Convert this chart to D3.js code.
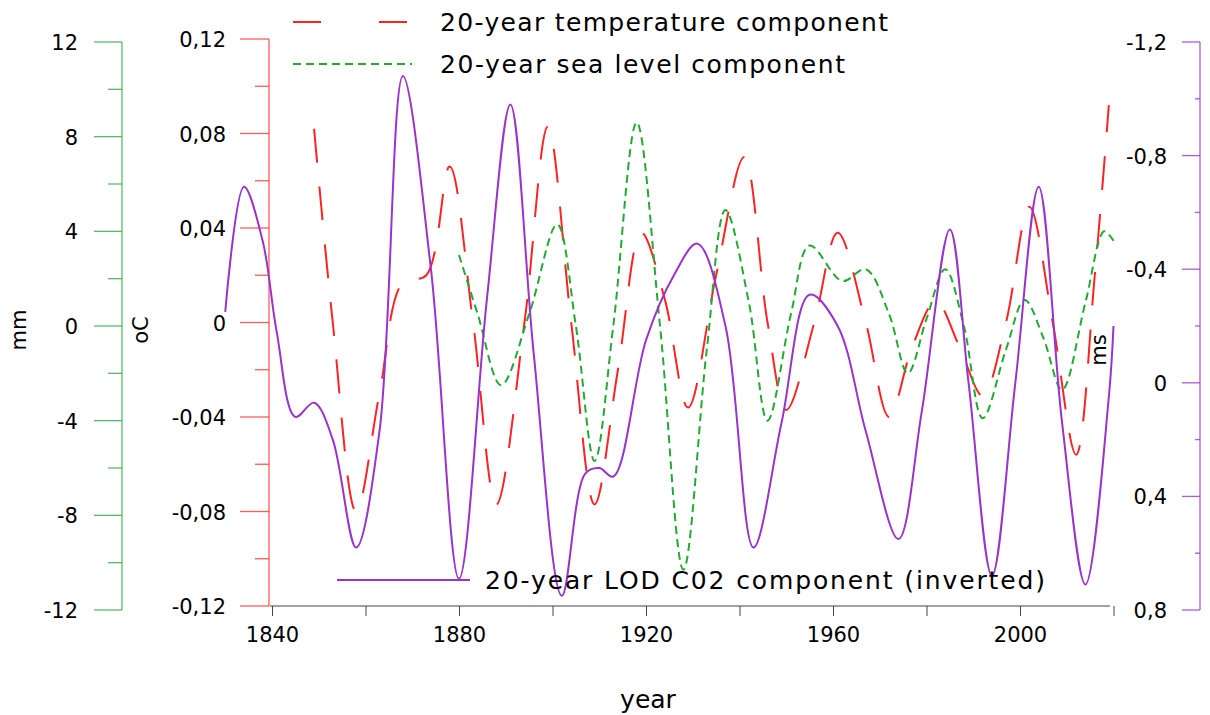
<!DOCTYPE html>
<html><head><meta charset="utf-8">
<script src="https://cdn.jsdelivr.net/npm/d3@7"></script>
<style>body{margin:0;background:#fff}text{font-family:"DejaVu Sans",Verdana,sans-serif}</style>
</head><body><svg id="c" width="1210" height="715"></svg>
<script>
// Data (years, values)
const tempYears = [1849,1853,1858,1863,1868,1873,1878,1883,1888,1894,1899,1904,1909,1914,1919,1924,1929,1935,1941,1946,1950,1956,1961,1967,1972,1977,1982,1987,1992,1997,2002,2007,2012,2016,2019];
const tempVals  = [0.082,0.0,-0.080,-0.03,0.017,0.02,0.066,0.0,-0.077,0.0,0.083,0.0,-0.077,-0.02,0.038,0.01,-0.036,0.02,0.070,0.0,-0.037,0.0,0.038,0.0,-0.040,-0.01,0.009,-0.01,-0.031,0.0,0.049,0.0,-0.056,0.02,0.092];
const seaYears = [1880,1884,1889,1895,1901,1905,1909,1913,1918,1923,1928,1933,1937,1942,1946,1951,1955,1962,1967,1972,1976,1980,1984,1988,1992,1997,2001,2005,2009,2014,2018,2020];
const seaVals  = [3.0,0.5,-2.5,0.5,4.3,0.0,-5.7,0.0,8.6,0.0,-10.3,-1.0,4.9,1.0,-4.0,0.5,3.4,1.9,2.4,0.5,-2.0,0.3,2.4,0.0,-3.9,-1.0,1.1,-0.5,-2.7,1.0,4.0,3.6];
const lodYears = [1830,1834,1838,1841,1845,1849,1853,1858,1863,1868,1874,1880,1886,1891,1896,1902,1907,1910,1913,1920,1926,1931,1937,1943,1949,1955,1961,1967,1974,1979,1985,1989,1994,1999,2004,2009,2014,2019,2020];
const lodVals  = [-0.25,-0.69,-0.5,-0.18,0.12,0.07,0.2,0.58,0.17,-1.08,-0.4,0.69,-0.3,-0.98,-0.1,0.75,0.32,0.3,0.33,-0.15,-0.38,-0.49,-0.2,0.58,0.14,-0.31,-0.2,0.17,0.55,0.1,-0.54,0.0,0.68,0.0,-0.69,0.14,0.71,0.05,-0.2];
const yearTicks = [1840,1880,1920,1960,2000];
const mmTicks = [12,8,4,0,-4,-8,-12];
const cTicks = [0.12,0.08,0.04,0,-0.04,-0.08,-0.12];
const msTicks = [-1.2,-0.8,-0.4,0,0.4,0.8];
const legendTexts = ["20-year temperature component","20-year sea level component","20-year LOD C02 component  (inverted)"];

const svg = d3.select("#c");
const x = d3.scaleLinear().domain([1840,2000]).range([272,1020]);
const yMM = d3.scaleLinear().domain([-12,12]).range([610,42]);
const yC = d3.scaleLinear().domain([-0.12,0.12]).range([606,39]);
const yMS = d3.scaleLinear().domain([-1.2,0.8]).range([42,610]);
const fmt = d => String(+d.toFixed(2)).replace(".",",");
const green="#33aa44", red="#ff3333", purple="#9933cc";

function vAxis(scale, xpos, col, ticks, minorStep, major, minor, labX){
  const g = svg.append("g");
  const [a,b] = scale.range();
  g.append("line").attr("x1",xpos).attr("x2",xpos).attr("y1",a).attr("y2",b).attr("stroke",col).attr("stroke-width",1.3).attr("opacity",0.8);
  const d = scale.domain();
  for(let v=d[0]; v<=d[1]+1e-9; v+=minorStep){
    const isMajor = ticks.some(t=>Math.abs(t-v)<1e-9);
    g.append("line").attr("x1",xpos-(isMajor?major:minor)).attr("x2",xpos).attr("y1",scale(v)).attr("y2",scale(v)).attr("stroke",col).attr("stroke-width",1.3).attr("opacity",0.8);
  }
  ticks.forEach(t=>g.append("text").attr("x",labX).attr("y",scale(t)+8).attr("text-anchor","end").attr("font-size",21).text(fmt(t)));
}
vAxis(yMM,122,green,mmTicks,2,28,14,78);
vAxis(yC,269,red,cTicks,0.02,29,14,226);
vAxis(yMS,1200,purple,msTicks,0.2,18,5,1167);

// bottom axis
const bx = svg.append("g").attr("transform","translate(0,606)");
bx.call(d3.axisBottom(x).tickValues(d3.range(1840,2021,20)).tickSize(10).tickFormat(d=>yearTicks.includes(d)?d:""));
bx.select(".domain").attr("d","M270,0H1110").attr("stroke","#444");
bx.selectAll(".tick line").attr("stroke","#444");
bx.selectAll(".tick text").attr("font-size",21).attr("font-family","DejaVu Sans").attr("dy","1.1em").attr("fill","#000");
svg.append("text").attr("x",648).attr("y",708).attr("text-anchor","middle").attr("font-size",25).text("year");
svg.append("text").attr("transform","translate(26,330) rotate(-90)").attr("text-anchor","middle").attr("font-size",21).text("mm");
svg.append("text").attr("transform","translate(148,330) rotate(-90)").attr("text-anchor","middle").attr("font-size",21).text("oC");
svg.append("text").attr("transform","translate(1106,350) rotate(-90)").attr("text-anchor","middle").attr("font-size",21).text("ms");

const line = (ys,vs,ysc)=>d3.line().curve(d3.curveCatmullRom.alpha(0.5)).x((d,i)=>x(ys[i])).y(d=>ysc(d))(vs);
svg.append("path").attr("d",line(tempYears,tempVals,yC)).attr("fill","none").attr("stroke","#ff2222").attr("stroke-width",2).attr("stroke-dasharray","34,24");
svg.append("path").attr("d",line(seaYears,seaVals,yMM)).attr("fill","none").attr("stroke","#22aa33").attr("stroke-width",2).attr("stroke-dasharray","8,5");
svg.append("path").attr("d",line(lodYears,lodVals,yMS)).attr("fill","none").attr("stroke",purple).attr("stroke-width",2);

// legend
svg.append("line").attr("x1",293).attr("x2",412).attr("y1",22).attr("y2",22).attr("stroke","#ff2222").attr("stroke-width",2).attr("stroke-dasharray","28,58");
svg.append("line").attr("x1",293).attr("x2",412).attr("y1",64).attr("y2",64).attr("stroke","#22aa33").attr("stroke-width",2).attr("stroke-dasharray","8,5");
svg.append("line").attr("x1",337).attr("x2",470).attr("y1",580).attr("y2",580).attr("stroke",purple).attr("stroke-width",2);
svg.append("text").attr("x",440).attr("y",31).attr("font-size",25).attr("textLength",448).text(legendTexts[0]);
svg.append("text").attr("x",440).attr("y",73).attr("font-size",25).attr("textLength",405).text(legendTexts[1]);
svg.append("text").attr("x",485).attr("y",589).attr("font-size",25).attr("textLength",560).text(legendTexts[2]);
</script></body></html>
